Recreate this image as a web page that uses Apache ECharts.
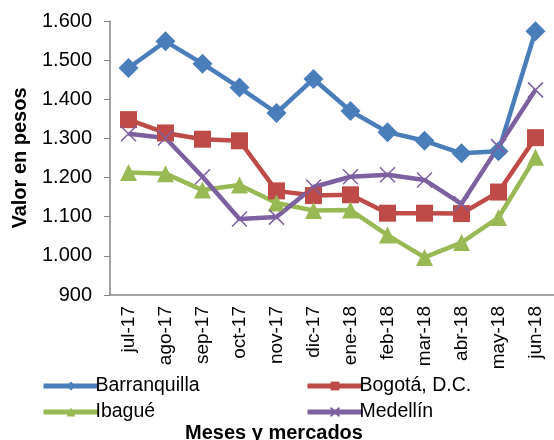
<!DOCTYPE html>
<html>
<head>
<meta charset="utf-8">
<script src="https://cdn.jsdelivr.net/npm/echarts@6/dist/echarts.min.js"></script>
<style>
  html, body { margin: 0; padding: 0; background: #fff; }
  #chart { width: 554px; height: 440px; }
</style>
</head>
<body>
<div id="chart"></div>
<script>
// months on the category axis
const months = ["jul-17", "ago-17", "sep-17", "oct-17", "nov-17", "dic-17",
  "ene-18", "feb-18", "mar-18", "abr-18", "may-18", "jun-18"];

// price per market (pesos)
const barranquilla = [1480, 1548, 1491, 1430, 1365, 1452, 1370, 1316, 1294, 1262, 1267, 1574];
const bogota = [1348, 1314, 1298, 1294, 1166, 1154, 1156, 1109, 1109, 1108, 1163, 1302];
const ibague = [1213, 1210, 1168, 1181, 1135, 1116, 1117, 1053, 996, 1034, 1098, 1252];
const medellin = [1312, 1301, 1202, 1094, 1099, 1176, 1202, 1207, 1194, 1133, 1279, 1424];

const yTicks = { min: 900, max: 1600, step: 100 };

const FONT = "Liberation Sans, Arial, sans-serif";
const AXIS_GRAY = "#868686";

const SERIES = [
  { name: "Barranquilla", data: barranquilla, color: "#4A7EBB", symbol: "diamond", size: 20 },
  { name: "Bogotá, D.C.", data: bogota, color: "#BE4B48", symbol: "rect", size: 17 },
  { name: "Ibagué", data: ibague, color: "#98B954", symbol: "triangle", size: 17 },
  { name: "Medellín", data: medellin, color: "#7D60A0", symbol: "path://M0,0L10,10M10,0L0,10", size: 15 },
];

// thousands separator with a dot, as in the original
const fmt = (v) => String(v).replace(/\B(?=(\d{3})+(?!\d))/g, ".");

const chart = echarts.init(document.getElementById("chart"), null, { renderer: "canvas" });

const legendBase = {
  orient: "vertical",
  top: 371,
  itemWidth: 55,
  itemHeight: 11,
  itemGap: 6,
  lineStyle: { width: 5 },
  textStyle: { fontFamily: FONT, fontSize: 19.5, color: "#000", padding: [0, 0, 0, -8] },
};

chart.setOption({
  backgroundColor: "#fff",
  animation: false,
  textStyle: { fontFamily: FONT },
  title: {
    text: "Meses y mercados",
    left: 269,
    textAlign: "center",
    top: 418,
    textStyle: { fontFamily: FONT, fontSize: 20, fontWeight: "bold", color: "#000" },
  },
  legend: [
    { ...legendBase, left: 36, data: ["Barranquilla", "Ibagué"] },
    { ...legendBase, left: 300, data: ["Bogotá, D.C.", "Medellín"] },
  ],
  grid: { left: 110, right: -4, top: 21, bottom: 145 },
  xAxis: {
    type: "category",
    data: months,
    boundaryGap: true,
    axisLine: { lineStyle: { color: AXIS_GRAY, width: 1.5 } },
    axisTick: { show: false },
    axisLabel: {
      rotate: 90,
      interval: 0,
      margin: 11,
      fontSize: 19,
      color: "#000",
      fontFamily: FONT,
    },
    splitLine: { show: false },
  },
  yAxis: {
    type: "value",
    min: yTicks.min,
    max: yTicks.max,
    interval: yTicks.step,
    name: "Valor en pesos",
    nameLocation: "middle",
    nameGap: 80,
    nameTextStyle: { fontFamily: FONT, fontSize: 20, fontWeight: "bold", color: "#000" },
    axisLine: { show: true, lineStyle: { color: AXIS_GRAY, width: 1.5 } },
    axisTick: { show: true, length: 6, lineStyle: { color: AXIS_GRAY } },
    axisLabel: {
      formatter: fmt,
      fontSize: 20,
      color: "#000",
      margin: 18,
      fontFamily: FONT,
    },
    splitLine: { show: false },
  },
  series: SERIES.map((s) => ({
    type: "line",
    name: s.name,
    data: s.data,
    symbol: s.symbol,
    symbolSize: s.size,
    showAllSymbol: true,
    color: s.color,
    lineStyle: { width: 4.5, color: s.color },
    itemStyle: s.name === "Medellín"
      ? { color: "none", borderColor: s.color, borderWidth: 1.5 }
      : { color: s.color },
  })),
});
</script>
</body>
</html>
